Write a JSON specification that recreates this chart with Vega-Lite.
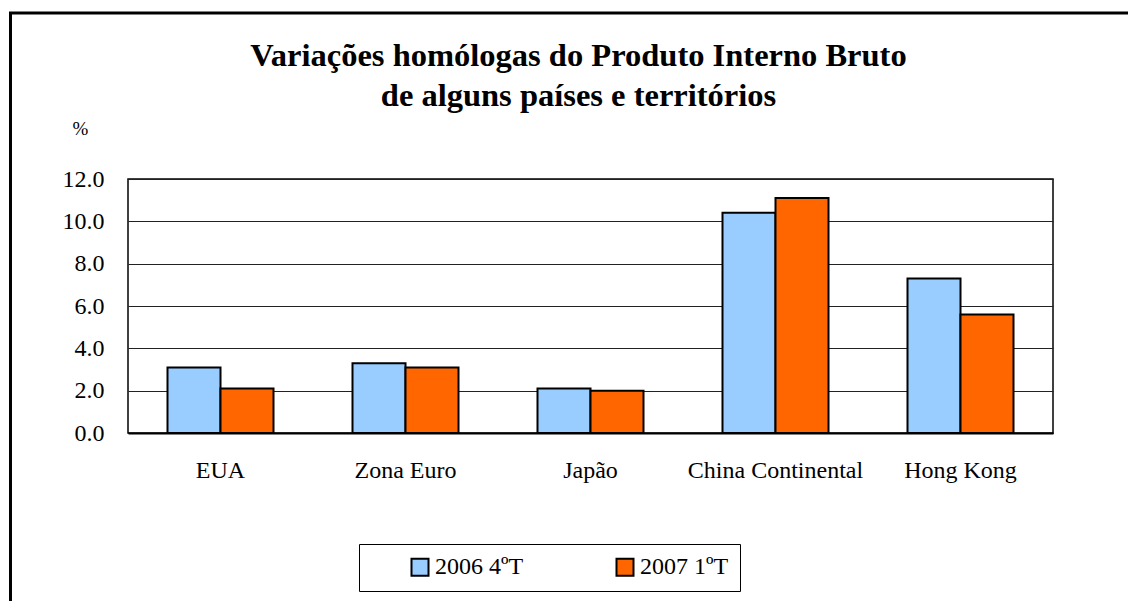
{
  "$schema": "https://vega.github.io/schema/vega-lite/v6.json",
  "width": 925,
  "height": 254,
  "autosize": {"type": "none"},
  "padding": {"left": 128, "top": 179, "right": 75, "bottom": 168},
  "background": "white",
  "title": {
    "text": ["Variações homólogas do Produto Interno Bruto", "de alguns países e territórios"],
    "font": "Liberation Serif",
    "fontSize": 32.5,
    "fontWeight": "bold",
    "color": "black",
    "anchor": "middle",
    "dx": -12,
    "lineHeight": 40,
    "offset": -101
  },
  "layer": [
    {
      "data": {"values": [{}]},
      "mark": {"type": "rect", "fill": "transparent", "stroke": "black", "strokeWidth": 3, "clip": false},
      "encoding": {
        "x": {"value": -117.5},
        "x2": {"value": 1100},
        "y": {"value": -166},
        "y2": {"value": 500}
      }
    },
    {
      "data": {
        "values": [
          {"pais": "EUA", "periodo": "2006 4ºT", "valor": 3.1},
          {"pais": "EUA", "periodo": "2007 1ºT", "valor": 2.1},
          {"pais": "Zona Euro", "periodo": "2006 4ºT", "valor": 3.3},
          {"pais": "Zona Euro", "periodo": "2007 1ºT", "valor": 3.1},
          {"pais": "Japão", "periodo": "2006 4ºT", "valor": 2.1},
          {"pais": "Japão", "periodo": "2007 1ºT", "valor": 2.0},
          {"pais": "China Continental", "periodo": "2006 4ºT", "valor": 10.4},
          {"pais": "China Continental", "periodo": "2007 1ºT", "valor": 11.1},
          {"pais": "Hong Kong", "periodo": "2006 4ºT", "valor": 7.3},
          {"pais": "Hong Kong", "periodo": "2007 1ºT", "valor": 5.6}
        ]
      },
      "mark": {"type": "bar", "stroke": "black", "strokeWidth": 2},
      "encoding": {
        "x": {
          "field": "pais",
          "type": "nominal",
          "sort": ["EUA", "Zona Euro", "Japão", "China Continental", "Hong Kong"],
          "scale": {"paddingInner": 0.427, "paddingOuter": 0.2135},
          "axis": {
            "title": null,
            "labelAngle": 0,
            "labelFont": "Liberation Serif",
            "labelFontSize": 24,
            "labelColor": "black",
            "labelPadding": 25,
            "ticks": false,
            "domain": true,
            "domainColor": "black",
            "domainWidth": 2,
            "grid": false
          }
        },
        "xOffset": {
          "field": "periodo",
          "type": "nominal",
          "scale": {"paddingInner": 0, "paddingOuter": 0}
        },
        "y": {
          "field": "valor",
          "type": "quantitative",
          "scale": {"domain": [0, 12], "nice": false},
          "axis": {
            "values": [0, 2, 4, 6, 8, 10, 12],
            "format": ".1f",
            "title": "%",
            "titleAngle": 0,
            "titleX": -48,
            "titleY": -51,
            "titleAlign": "center",
            "titleBaseline": "middle",
            "titleFont": "Liberation Serif",
            "titleFontSize": 19,
            "titleFontWeight": "normal",
            "titleColor": "black",
            "labelFont": "Liberation Serif",
            "labelFontSize": 24,
            "labelColor": "black",
            "labelPadding": 24,
            "ticks": false,
            "domain": false,
            "grid": true,
            "gridColor": "#222222",
            "gridWidth": 1
          }
        },
        "color": {
          "field": "periodo",
          "type": "nominal",
          "scale": {"domain": ["2006 4ºT", "2007 1ºT"], "range": ["#99CCFF", "#FF6600"]},
          "legend": {
            "orient": "none",
            "legendX": 231,
            "legendY": 365,
            "direction": "horizontal",
            "title": null,
            "strokeColor": "black",
            "fillColor": "white",
            "padding": 11,
            "symbolType": "square",
            "symbolSize": 289,
            "symbolStrokeColor": "black",
            "symbolStrokeWidth": 2,
            "symbolOffset": 38,
            "columnPadding": 51,
            "labelOffset": 3,
            "labelFont": "Liberation Serif",
            "labelFontSize": 24,
            "labelColor": "black"
          }
        }
      }
    }
  ],
  "config": {
    "view": {"stroke": "black", "strokeWidth": 1.5},
    "font": "Liberation Serif"
  }
}
